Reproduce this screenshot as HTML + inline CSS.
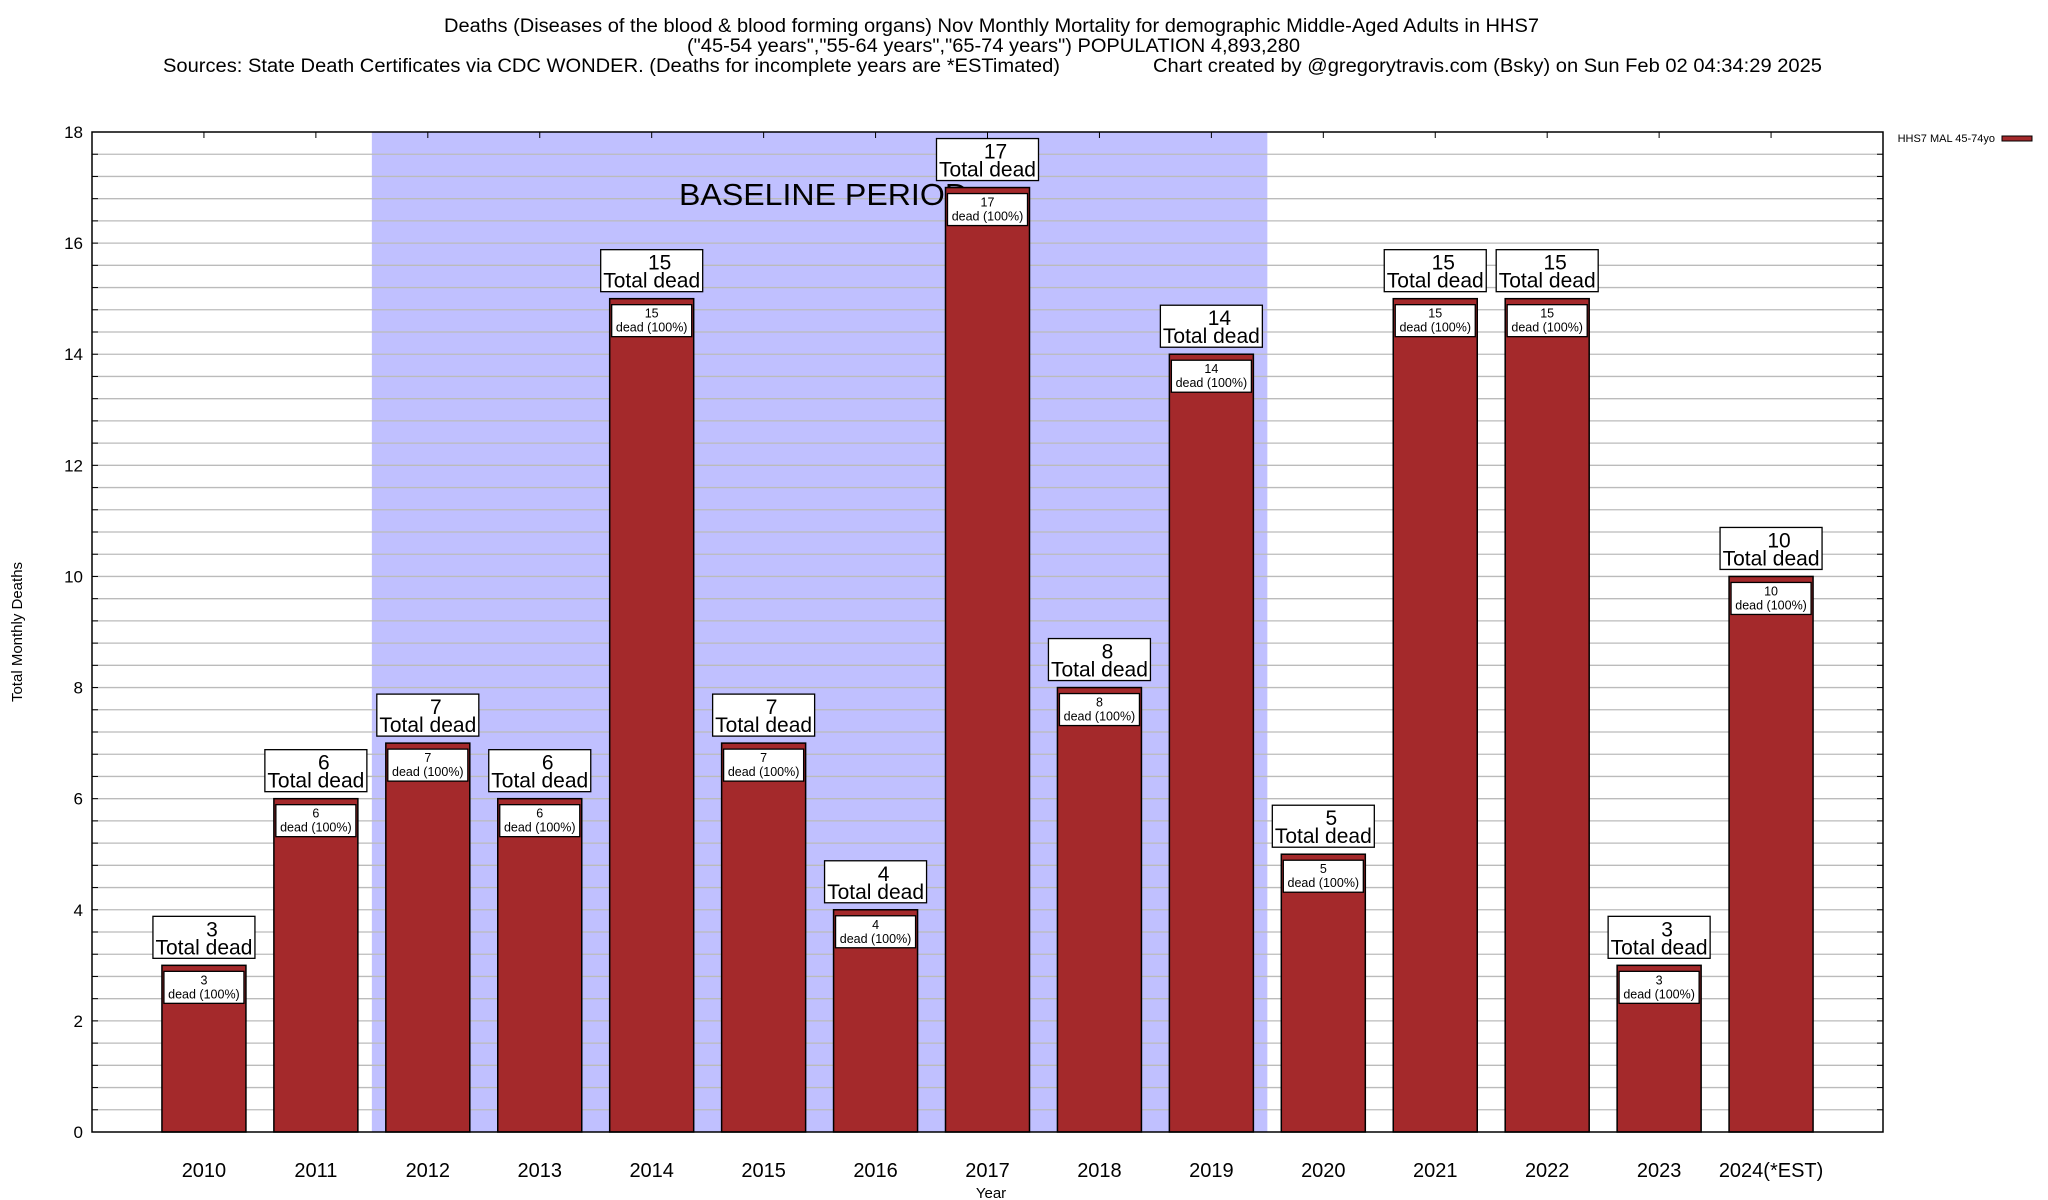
<!DOCTYPE html>
<html><head><meta charset="utf-8"><style>body{margin:0;background:#fff}svg{display:block;font-family:"Liberation Sans",sans-serif}</style></head>
<body>
<svg id="chart" width="2048" height="1200" viewBox="0 0 2048 1200" xmlns="http://www.w3.org/2000/svg">
<rect width="2048" height="1200" fill="#fff"/>
<text x="444" y="32" font-size="19" textLength="1095" lengthAdjust="spacingAndGlyphs">Deaths (Diseases of the blood &amp; blood forming organs) Nov Monthly Mortality for demographic Middle-Aged Adults in HHS7</text>
<text x="687" y="52" font-size="19" textLength="613" lengthAdjust="spacingAndGlyphs">("45-54 years","55-64 years","65-74 years") POPULATION 4,893,280</text>
<text x="163" y="72" font-size="19" textLength="897" lengthAdjust="spacingAndGlyphs">Sources: State Death Certificates via CDC WONDER. (Deaths for incomplete years are *ESTimated)</text>
<text x="1153" y="72" font-size="19" textLength="669" lengthAdjust="spacingAndGlyphs">Chart created by @gregorytravis.com (Bsky) on Sun Feb 02 04:34:29 2025</text>
<g id="plot"></g>
<text transform="translate(22,632) rotate(-90)" text-anchor="middle" font-size="15">Total Monthly Deaths</text>
<text x="991" y="1198" text-anchor="middle" font-size="15">Year</text>
<text x="1995" y="142" text-anchor="end" font-size="11">HHS7 MAL 45-74yo</text>
<rect x="2002" y="136" width="30" height="5" fill="#a4292b" stroke="#000" stroke-width="1"/>
</svg>
<script>
const categories = ["2010","2011","2012","2013","2014","2015","2016","2017","2018","2019","2020","2021","2022","2023","2024(*EST)"];
const deaths = [3,6,7,6,15,7,4,17,8,14,5,15,15,3,10];
const yTicks = [0,2,4,6,8,10,12,14,16,18];
const baselineRange = [2012, 2019];

const NS = "http://www.w3.org/2000/svg";
const L = 92, R = 1883, T = 132, B = 1132, YMAX = 18;
const step = (R - L) / (categories.length + 1);
const xc = i => L + step * (i + 1);
const y = v => B - (v / YMAX) * (B - T);
const g = document.getElementById('plot');
function mk(tag, attrs, text) {
  const e = document.createElementNS(NS, tag);
  for (const k in attrs) e.setAttribute(k, attrs[k]);
  if (text !== undefined) e.textContent = text;
  g.appendChild(e);
  return e;
}
const bi0 = categories.indexOf(String(baselineRange[0])), bi1 = categories.indexOf(String(baselineRange[1]));
let sh = mk('rect', {x: xc(bi0) - step/2, y: T, width: (bi1 - bi0 + 1) * step, height: B - T, fill: '#c0c0ff'});


for (let v = 0.4; v < YMAX; v += 0.4) {
  const vv = Math.round(v * 10) / 10;
  let ln = mk('line', {x1: L, x2: R, y1: y(vv), y2: y(vv), stroke: '#bbb', 'stroke-width': 1.3});
  
  
  mk('line', {x1: L, x2: L + 6, y1: y(vv), y2: y(vv), stroke: '#000'});
  mk('line', {x1: R - 6, x2: R, y1: y(vv), y2: y(vv), stroke: '#000'});
}
yTicks.forEach(t => {
  let tx = mk('text', {x: 83, y: y(t) + 6, 'text-anchor': 'end', 'font-size': 17}, String(t));
  
  
});
let bl = mk('text', {x: 679, y: 205, 'font-size': 31, textLength: 289, lengthAdjust: 'spacingAndGlyphs'}, 'BASELINE PERIOD');


categories.forEach((c, i) => {
  const cx = xc(i), v = deaths[i], top = y(v), w = 84;
  mk('line', {x1: cx, x2: cx, y1: T, y2: T + 6, stroke: '#000'});
  let bar = mk('rect', {x: cx - w/2, y: top, width: w, height: B - top, fill: '#a4292b', stroke: '#000', 'stroke-width': 1.5});
  
  
  let ib = mk('rect', {x: cx - 40, y: top + 6, width: 80, height: 32, fill: '#fff', stroke: '#000', 'stroke-width': 1.3});
  
  
  mk('text', {x: cx, y: top + 19, 'text-anchor': 'middle', 'font-size': 12.5}, String(v));
  mk('text', {x: cx, y: top + 33, 'text-anchor': 'middle', 'font-size': 12.5}, 'dead (100%)');
  let ob = mk('rect', {x: cx - 51, y: top - 49, width: 102, height: 42, fill: '#fff', stroke: '#000', 'stroke-width': 1.3});
  
  
  mk('text', {x: cx + 8, y: top - 29, 'text-anchor': 'middle', 'font-size': 21}, String(v));
  mk('text', {x: cx, y: top - 11, 'text-anchor': 'middle', 'font-size': 21}, 'Total dead');
  let xl = mk('text', {x: cx, y: 1177, 'text-anchor': 'middle', 'font-size': 20}, c);
  
  
});
let fr = mk('rect', {x: L, y: T, width: R - L, height: B - T, fill: 'none', stroke: '#000', 'stroke-width': 1.5});


</script>
</body></html>
